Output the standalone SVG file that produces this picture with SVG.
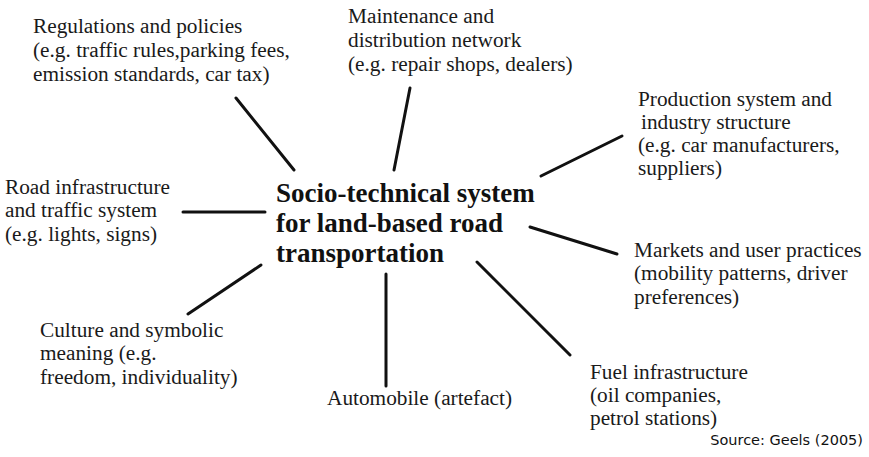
<svg xmlns="http://www.w3.org/2000/svg" width="869" height="457" viewBox="0 0 869 457">
<style>
.t{font-family:"Liberation Serif","Times New Roman",serif;font-size:21.3px;fill:#1a1a1a}
.c{font-family:"Liberation Serif","Times New Roman",serif;font-size:27px;font-weight:bold;fill:#111}
.s{font-family:"DejaVu Sans",Verdana,sans-serif;font-size:14.5px;fill:#111}
.l{stroke:#111;stroke-width:3;stroke-linecap:round;fill:none}
</style>
<rect width="869" height="457" fill="#fff"/>
<g id="connectors">
<line class="l" x1="236" y1="98" x2="294" y2="170"/>
<line class="l" x1="410" y1="88" x2="394" y2="170"/>
<line class="l" x1="541" y1="176" x2="622" y2="136"/>
<line class="l" x1="183" y1="212" x2="265" y2="212"/>
<line class="l" x1="530" y1="227" x2="617" y2="254"/>
<line class="l" x1="188" y1="314" x2="261" y2="265"/>
<line class="l" x1="386" y1="274" x2="386" y2="386"/>
<line class="l" x1="477" y1="262" x2="570" y2="355"/>
</g>
<g id="center"><text class="c"><tspan x="276" y="202">Socio-technical system</tspan><tspan x="276" y="232">for land-based road</tspan><tspan x="276" y="262">transportation</tspan></text></g>
<g id="regulations"><text class="t"><tspan x="33" y="33">Regulations and policies</tspan><tspan x="33" y="57">(e.g. traffic rules,parking fees,</tspan><tspan x="33" y="81">emission standards, car tax)</tspan></text></g>
<g id="maintenance"><text class="t"><tspan x="348" y="23">Maintenance and</tspan><tspan x="348" y="47">distribution network</tspan><tspan x="348" y="71">(e.g. repair shops, dealers)</tspan></text></g>
<g id="production"><text class="t"><tspan x="638" y="106">Production system and</tspan><tspan x="641" y="129">industry structure</tspan><tspan x="638" y="152">(e.g. car manufacturers,</tspan><tspan x="638" y="175">suppliers)</tspan></text></g>
<g id="road"><text class="t"><tspan x="5" y="194">Road infrastructure</tspan><tspan x="5" y="217">and traffic system</tspan><tspan x="5" y="241">(e.g. lights, signs)</tspan></text></g>
<g id="markets"><text class="t"><tspan x="634" y="257">Markets and user practices</tspan><tspan x="634" y="280">(mobility patterns, driver</tspan><tspan x="634" y="304">preferences)</tspan></text></g>
<g id="culture"><text class="t"><tspan x="40" y="337">Culture and symbolic</tspan><tspan x="40" y="360">meaning (e.g.</tspan><tspan x="40" y="384">freedom, individuality)</tspan></text></g>
<g id="automobile"><text class="t" x="327" y="405">Automobile (artefact)</text></g>
<g id="fuel"><text class="t"><tspan x="590" y="379">Fuel infrastructure</tspan><tspan x="590" y="402">(oil companies,</tspan><tspan x="590" y="425">petrol stations)</tspan></text></g>
<g id="source"><text class="s" x="863" y="445" text-anchor="end">Source: Geels (2005)</text></g>
</svg>
